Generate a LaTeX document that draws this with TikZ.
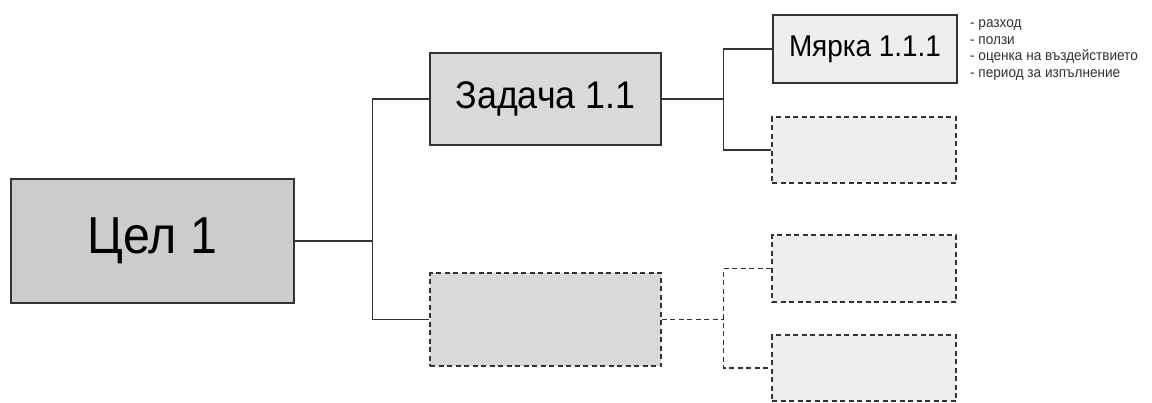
\documentclass[tikz,border=0pt]{standalone}
\usepackage{fontspec}
\setmainfont{Liberation Sans}[FakeStretch=0.93]
\definecolor{edge}{HTML}{333333}
\definecolor{fgoal}{HTML}{CCCCCC}
\definecolor{ftask}{HTML}{D9D9D9}
\definecolor{fmeas}{HTML}{EEEEEE}
\begin{document}
\begin{tikzpicture}[x=1pt,y=-1pt,
  box/.style={draw=edge,line width=1.6pt,inner sep=0pt,anchor=center},
  dbox/.style={box,dash pattern=on 5pt off 3.5pt},
  link/.style={draw=edge,line width=1.6pt},
  dlink/.style={link,dash pattern=on 5pt off 3.5pt}]
\useasboundingbox (0,0) rectangle (1152,402);
\fill[white] (0,0) rectangle (1152,402);
\node[box,fill=fgoal,minimum width=283pt,minimum height=124pt,font=\fontsize{52}{62}\selectfont] (cel) at (152.5,241) {Цел 1};
\node[box,fill=ftask,minimum width=231pt,minimum height=92pt,font=\fontsize{38.5}{46}\selectfont] (zad) at (545.5,99) {Задача 1.1};
\node[dbox,fill=ftask,minimum width=231pt,minimum height=93pt] (low) at (545.5,319.5) {};
\node[box,fill=fmeas,minimum width=184pt,minimum height=68pt,font=\fontsize{30}{36}\selectfont] (mer) at (865,49) {Мярка 1.1.1};
\node[dbox,fill=fmeas,minimum width=184pt,minimum height=66pt] (r1) at (864,150) {};
\node[dbox,fill=fmeas,minimum width=184pt,minimum height=67pt] (r2) at (864,268.5) {};
\node[dbox,fill=fmeas,minimum width=184pt,minimum height=66pt] (r3) at (864,368) {};
\node[anchor=base west,inner sep=0pt,align=left,text=edge,font=\fontsize{14.6}{16.5}\selectfont] (notes) at (970,77)
  {- разход\\- ползи\\- оценка на въздействието\\- период за изпълнение};
\coordinate (j1) at (372.5,241);
\coordinate (j2) at (723.5,99);
\coordinate (j3) at (723.5,319.5);
\draw[link] (cel.east) -- (j1);
\draw[link] (zad.west) -| (j1) |- (low.west);
\draw[link] (zad.east) -- (j2);
\draw[link] (mer.west) -| (j2) |- (r1.west);
\draw[dlink] (low.east) -- (j3);
\draw[dlink] (r2.west) -| (j3) |- (r3.west);
\end{tikzpicture}
\end{document}
